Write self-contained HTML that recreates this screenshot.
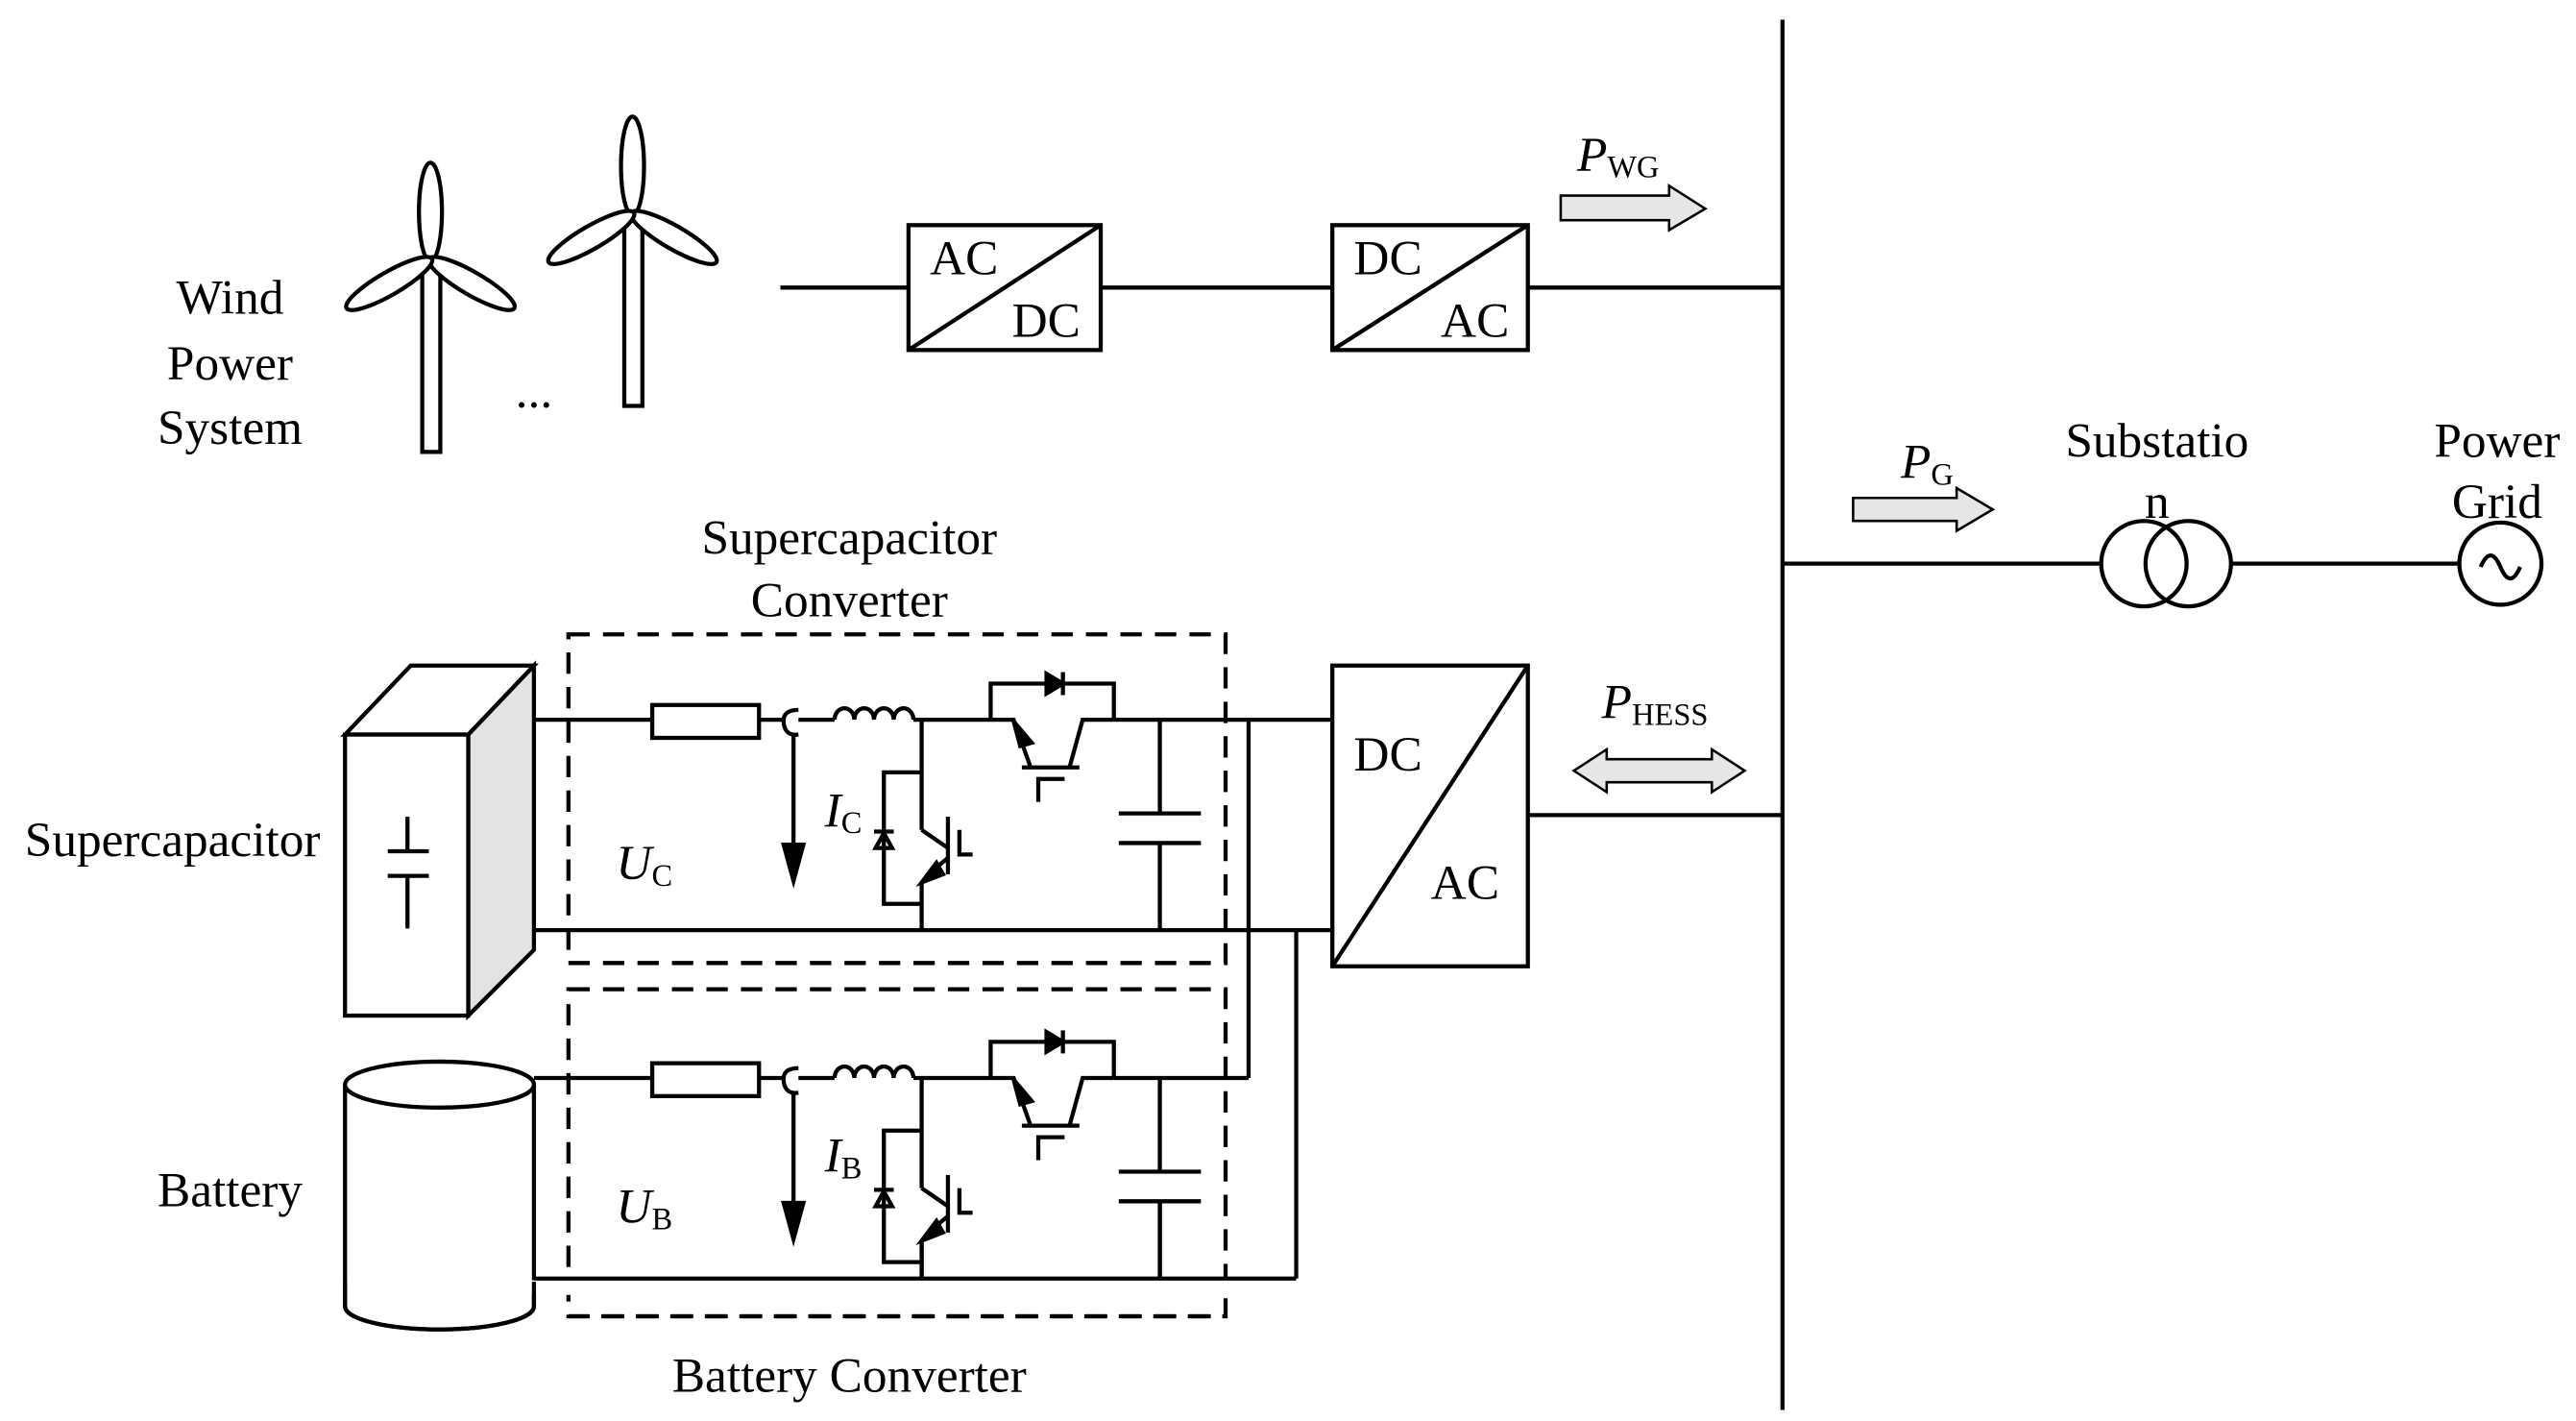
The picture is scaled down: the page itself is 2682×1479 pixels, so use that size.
<!DOCTYPE html>
<html><head><meta charset="utf-8"><style>
html,body{margin:0;padding:0;background:#fff}
svg{display:block}
text{font-family:"Liberation Serif",serif;fill:#000}
</style></head><body>
<svg width="2682" height="1479" viewBox="0 0 1568 864.7" xmlns="http://www.w3.org/2000/svg">
<defs>
<g id="conv" stroke="#000" stroke-width="2.5" fill="none">
  <line x1="325" y1="438" x2="397" y2="438"/>
  <rect x="397" y="429" width="65" height="20"/>
  <line x1="462" y1="438" x2="476" y2="438"/>
  <path d="M486,432 Q476,432 477,440 Q478,448 486,447"/>
  <line x1="486" y1="438" x2="508" y2="438"/>
  <path d="M508,438 a6,7 0 0 1 12,0 a6,7 0 0 1 12,0 a6,7 0 0 1 12,0 a6,7 0 0 1 12,0"/>
  <line x1="556" y1="438" x2="603" y2="438"/>
  <line x1="483" y1="446" x2="483" y2="525"/>
  <path d="M477,514 L483,536 L489,514 Z" fill="#000"/>
  <line x1="561" y1="438" x2="561" y2="505"/>
  <line x1="561" y1="505" x2="577" y2="516"/>
  <line x1="577" y1="497" x2="577" y2="532"/>
  <line x1="577" y1="522" x2="565" y2="532"/>
  <path d="M561,537 L570,525 L574,532 Z" fill="#000"/>
  <line x1="561" y1="537" x2="561" y2="566"/>
  <polyline points="584,505 584,520 592,520"/>
  <polyline points="561,470 538,470 538,550 561,550"/>
  <path d="M533,516 L538,507 L543,516 Z"/>
  <line x1="532" y1="506" x2="544" y2="506"/>
  <polyline points="603,438 603,416 678,416 678,438"/>
  <path d="M637,410 L647,416 L637,422 Z" fill="#000"/>
  <line x1="647" y1="409" x2="647" y2="423"/>
  <polyline points="603,438 617,438 627,466"/>
  <path d="M617,439 L628,452 L621,454 Z" fill="#000"/>
  <line x1="622" y1="467" x2="657" y2="467"/>
  <polyline points="651,467 659,438 678,438"/>
  <polyline points="632,488 632,474 648,474"/>
  <line x1="678" y1="438" x2="760" y2="438"/>
  <line x1="706" y1="438" x2="706" y2="495"/>
  <line x1="681" y1="495" x2="731" y2="495"/>
  <line x1="681" y1="513" x2="731" y2="513"/>
  <line x1="706" y1="513" x2="706" y2="566"/>
  <line x1="325" y1="566" x2="789" y2="566"/>
</g>
</defs>

<line x1="1085" y1="12" x2="1085" y2="858" stroke="#000" stroke-width="2.5"/>

<text x="140" y="191" font-size="30" text-anchor="middle">Wind</text>
<text x="140" y="231" font-size="30" text-anchor="middle">Power</text>
<text x="140" y="270" font-size="30" text-anchor="middle">System</text>
<g stroke="#000" stroke-width="2.5" fill="#fff">
  <rect x="257" y="162" width="11" height="113"/>
  <ellipse cx="262" cy="129" rx="7" ry="30"/>
  <ellipse cx="262" cy="129" rx="7" ry="30" transform="rotate(120 262 158)"/>
  <ellipse cx="262" cy="129" rx="7" ry="30" transform="rotate(240 262 158)"/>
  <rect x="380" y="133" width="11" height="114"/>
  <ellipse cx="385" cy="101" rx="7" ry="30"/>
  <ellipse cx="385" cy="101" rx="7" ry="30" transform="rotate(120 385 130)"/>
  <ellipse cx="385" cy="101" rx="7" ry="30" transform="rotate(240 385 130)"/>
</g>
<text x="325" y="248" font-size="30" text-anchor="middle">...</text>

<g stroke="#000" stroke-width="2.5" fill="none">
  <line x1="475" y1="175" x2="553" y2="175"/>
  <rect x="553" y="137" width="117" height="76"/>
  <line x1="553" y1="213" x2="670" y2="137"/>
  <line x1="670" y1="175" x2="811" y2="175"/>
  <rect x="811" y="137" width="119" height="76"/>
  <line x1="811" y1="213" x2="930" y2="137"/>
  <line x1="930" y1="175" x2="1085" y2="175"/>
  <line x1="1085" y1="343" x2="1279" y2="343"/>
  <circle cx="1305" cy="343" r="26"/>
  <circle cx="1332" cy="343" r="26"/>
  <line x1="1358" y1="343" x2="1497" y2="343"/>
  <circle cx="1522" cy="343" r="25"/>
  <path d="M1510,345 q6,-14 12,0 q6,14 12,0"/>
  <rect x="811" y="405" width="119" height="183"/>
  <line x1="811" y1="588" x2="930" y2="405"/>
  <line x1="930" y1="496" x2="1085" y2="496"/>
</g>
<text x="566" y="167" font-size="30">AC</text>
<text x="616" y="205" font-size="30">DC</text>
<text x="824" y="167" font-size="30">DC</text>
<text x="877" y="205" font-size="30">AC</text>
<text x="824" y="469" font-size="30">DC</text>
<text x="871" y="547" font-size="30">AC</text>

<g stroke="#000" stroke-width="1.5" fill="#e6e6e6">
  <path d="M950,119 L1016,119 L1016,113 L1038,127 L1016,140 L1016,134 L950,134 Z"/>
  <path d="M1128,303 L1191,303 L1191,297 L1213,310 L1191,323 L1191,317 L1128,317 Z"/>
  <path d="M958,469 L978,456 L978,462 L1042,462 L1042,456 L1062,469 L1042,482 L1042,476 L978,476 L978,482 Z"/>
</g>
<text x="960" y="104" font-size="30" font-style="italic">P<tspan font-size="19" font-style="normal" dy="4">WG</tspan></text>
<text x="1157" y="291" font-size="30" font-style="italic">P<tspan font-size="19" font-style="normal" dy="4">G</tspan></text>
<text x="975" y="437" font-size="30" font-style="italic">P<tspan font-size="19" font-style="normal" dy="4">HESS</tspan></text>

<text x="1313" y="278" font-size="30" text-anchor="middle">Substatio</text>
<text x="1313" y="315" font-size="30" text-anchor="middle">n</text>
<text x="1520" y="278" font-size="30" text-anchor="middle">Power</text>
<text x="1520" y="315" font-size="30" text-anchor="middle">Grid</text>

<text x="517" y="337" font-size="30" text-anchor="middle">Supercapacitor</text>
<text x="517" y="375" font-size="30" text-anchor="middle">Converter</text>
<text x="517" y="847" font-size="30" text-anchor="middle">Battery Converter</text>
<text x="105" y="521" font-size="30" text-anchor="middle">Supercapacitor</text>
<text x="140" y="734" font-size="30" text-anchor="middle">Battery</text>

<g stroke="#000" stroke-width="2.5" fill="none" stroke-dasharray="13,8">
  <rect x="346" y="386" width="400" height="200"/>
  <rect x="346" y="602" width="400" height="199"/>
</g>

<g stroke="#000" stroke-width="2.5">
  <path d="M285,447 L325,405 L325,578 L285,618 Z" fill="#e3e3e3"/>
  <path d="M210,447 L250,405 L325,405 L285,447 Z" fill="#fff"/>
  <rect x="210" y="447" width="75" height="171" fill="#fff"/>
  <line x1="248" y1="497" x2="248" y2="518"/>
  <line x1="236" y1="518" x2="261" y2="518"/>
  <line x1="236" y1="533" x2="261" y2="533"/>
  <line x1="248" y1="533" x2="248" y2="565"/>
</g>

<g stroke="#000" stroke-width="2.5" fill="#fff">
  <path d="M210,660 L210,795 A57.5,14 0 0 0 325,795 L325,660"/>
  <ellipse cx="267.5" cy="660" rx="57.5" ry="14"/>
</g>

<use href="#conv"/>
<use href="#conv" transform="translate(0,218)"/>
<rect x="300" y="779" width="510" height="9" fill="#fff"/>
<g stroke="#000" stroke-width="2.5" fill="none">
  <path d="M210,780 L210,795 A57.5,14 0 0 0 325,795 L325,780"/>
  <line x1="760" y1="438" x2="760" y2="656"/>
  <line x1="760" y1="438" x2="811" y2="438"/>
  <line x1="789" y1="566" x2="811" y2="566"/>
  <line x1="789" y1="566" x2="789" y2="778"/>
  <line x1="325" y1="778" x2="789" y2="778"/>
  <line x1="706" y1="731" x2="706" y2="778"/>
  <line x1="561" y1="755" x2="561" y2="778"/>
  <line x1="346" y1="801" x2="746" y2="801" stroke-dasharray="13,8"/>
</g>

<text x="375" y="535" font-size="30" font-style="italic">U<tspan font-size="19" font-style="normal" dy="4">C</tspan></text>
<text x="502" y="503" font-size="30" font-style="italic">I<tspan font-size="19" font-style="normal" dy="4">C</tspan></text>
<text x="375" y="744" font-size="30" font-style="italic">U<tspan font-size="19" font-style="normal" dy="4">B</tspan></text>
<text x="502" y="713" font-size="30" font-style="italic">I<tspan font-size="19" font-style="normal" dy="4">B</tspan></text>
</svg>
</body></html>
